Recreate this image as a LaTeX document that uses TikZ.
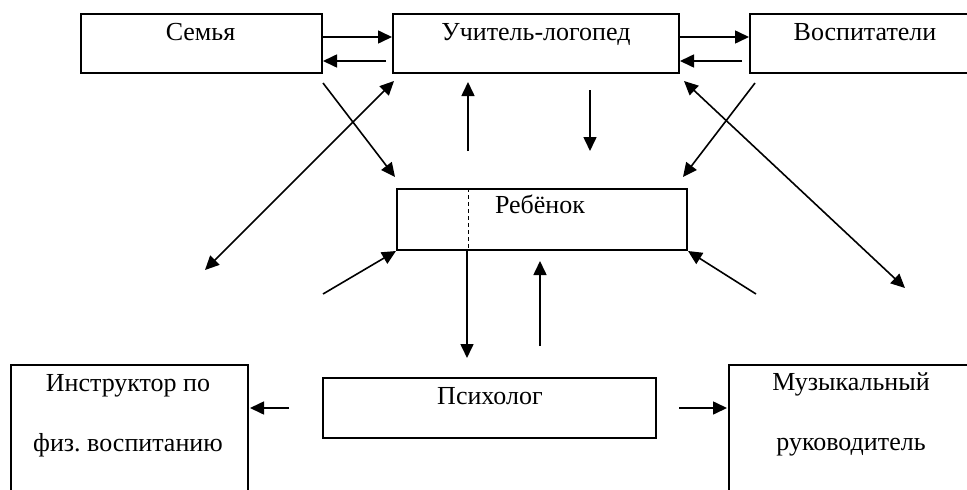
\documentclass[tikz,border=0pt]{standalone}
\usepackage{fontspec}
\setmainfont{Liberation Serif}
\usetikzlibrary{arrows.meta}
\frenchspacing
\begin{document}
\begin{tikzpicture}[x=1pt,y=-1pt,
  box/.style={draw,line width=2pt,inner sep=0pt,anchor=north west},
  lbl/.style={anchor=base,inner sep=0pt,font=\fontsize{26}{30}\selectfont},
  arr/.style={line width=1.6pt,-{Triangle[length=14pt,width=13pt]}},
  darr/.style={line width=1.6pt,{Triangle[length=14pt,width=13pt]}-{Triangle[length=14pt,width=13pt]}}]
\useasboundingbox (0,0) rectangle (967,490);
\clip (0,0) rectangle (967,490);
% boxes
\node[box,minimum width=241pt,minimum height=59pt] (sem) at (80,13) {};
\node[box,minimum width=286pt,minimum height=59pt] (uch) at (392,13) {};
\node[box,minimum width=240pt,minimum height=59pt] (vos) at (749,13) {};
\node[box,minimum width=290pt,minimum height=61pt] (reb) at (396,188) {};
\node[box,minimum width=333pt,minimum height=60pt] (psy) at (322,377) {};
\node[box,minimum width=237pt,minimum height=140pt] (ins) at (10,364) {};
\node[box,minimum width=250pt,minimum height=140pt] (mus) at (728,364) {};
% labels
\node[lbl] (semT) at (200.5,40) {Семья};
\node[lbl] (uchT) at (536,40) {Учитель-логопед};
\node[lbl] (vosT) at (865,40) {Воспитатели};
\node[lbl] (rebT) at (540,213) {Ребёнок};
\node[lbl] (psyT) at (490,404) {Психолог};
\node[lbl] (insT1) at (128,391) {Инструктор по};
\node[lbl] (insT2) at (128,451) {физ. воспитанию};
\node[lbl] (musT1) at (851,390) {Музыкальный};
\node[lbl] (musT2) at (851,450) {руководитель};
% free ends
\coordinate (a1) at (386,61);
\coordinate (a2) at (742,61);
\coordinate (c1s) at (323,83);
\coordinate (c1e) at (395,177);
\coordinate (c2s) at (205,270);
\coordinate (c2e) at (394,81);
\coordinate (c3s) at (755,83);
\coordinate (c3e) at (683,177);
\coordinate (c4s) at (905,288);
\coordinate (c4e) at (684,81);
\coordinate (u1s) at (468,151);
\coordinate (u1e) at (468,82);
\coordinate (d1s) at (590,90);
\coordinate (d1e) at (590,151);
\coordinate (l1s) at (323,294);
\coordinate (r1s) at (756,294);
\coordinate (d2e) at (467,358);
\coordinate (u2s) at (540,346);
\coordinate (u2e) at (540,261);
\coordinate (b1s) at (289,408);
\coordinate (b1e) at (250,408);
\coordinate (b2s) at (679,408);
\coordinate (b2e) at (727,408);
% connectors
\draw[arr] (sem.east |- 0,37) -- (uch.west |- 0,37);
\draw[arr] (a1) -- (sem.east |- a1);
\draw[arr] (uch.east |- 0,37) -- (vos.west |- 0,37);
\draw[arr] (a2) -- (uch.east |- a2);
\draw[arr] (c1s) -- (c1e);
\draw[darr] (c2s) -- (c2e);
\draw[arr] (c3s) -- (c3e);
\draw[darr] (c4s) -- (c4e);
\draw[arr] (u1s) -- (u1e);
\draw[arr] (d1s) -- (d1e);
\draw[arr] (l1s) -- (reb.south west);
\draw[arr] (r1s) -- (reb.south east);
\draw[line width=0.9pt,dash pattern=on 4pt off 3pt] (468,188) -- (468,249);
\draw[arr] (467,249) -- (d2e);
\draw[arr] (u2s) -- (u2e);
\draw[arr] (b1s) -- (b1e);
\draw[arr] (b2s) -- (b2e);
\end{tikzpicture}
\end{document}
